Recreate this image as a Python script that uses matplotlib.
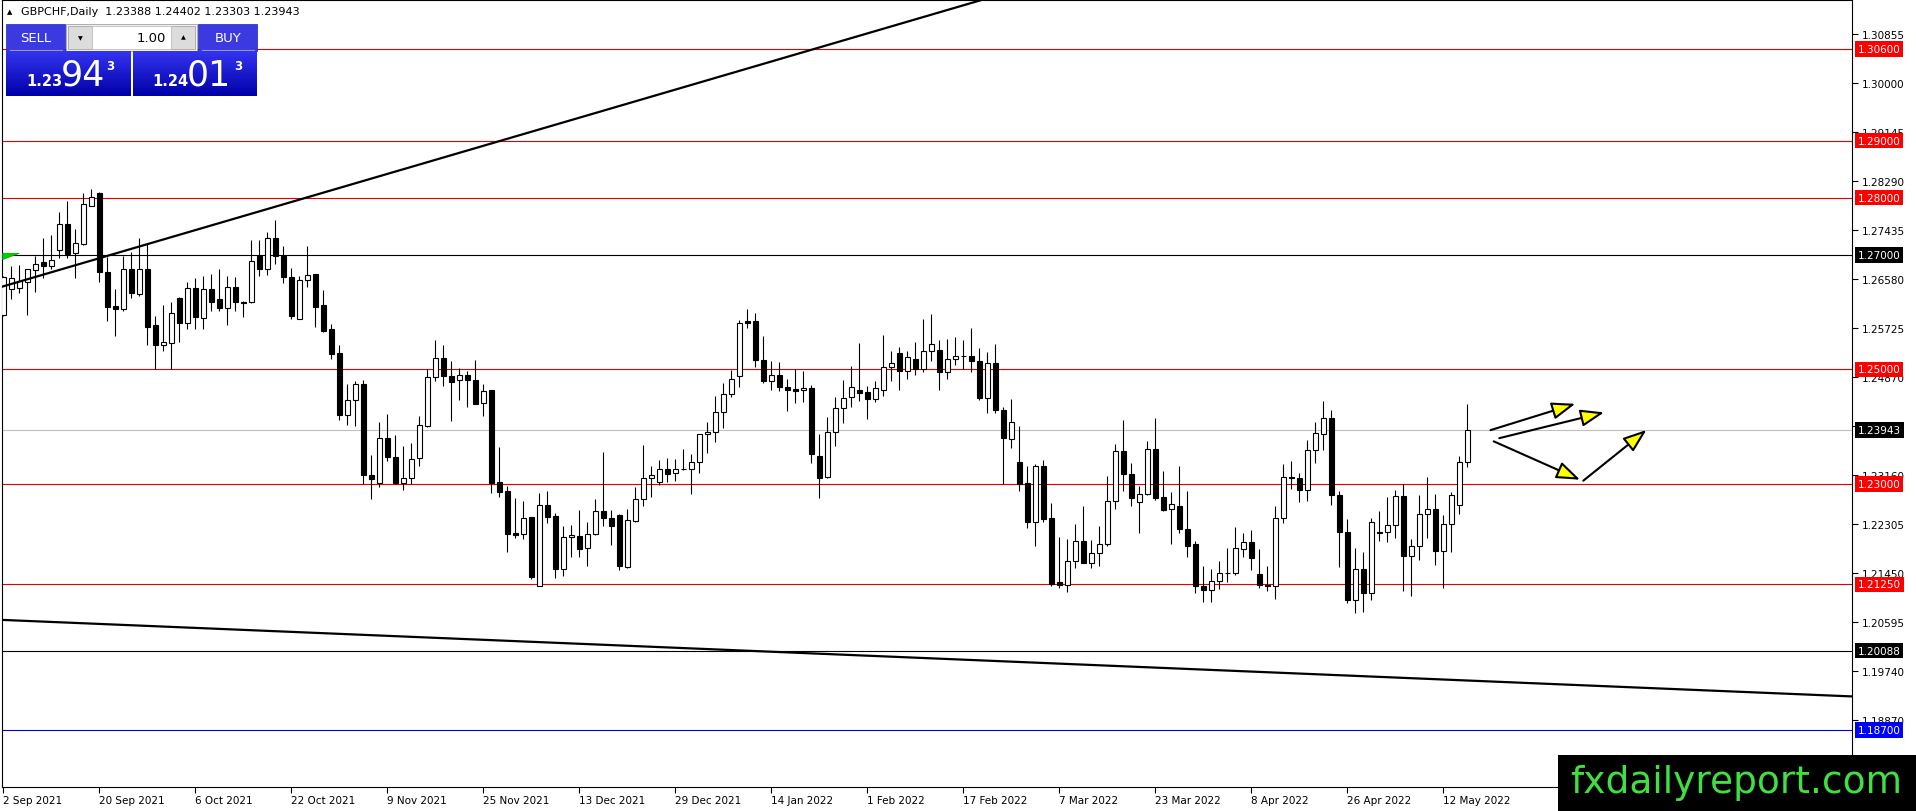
import numpy as np
import pandas as pd
import matplotlib
matplotlib.use("Agg")
import matplotlib.pyplot as plt
from matplotlib import transforms
from matplotlib.patches import Rectangle, Polygon, FancyArrowPatch
from matplotlib.colors import LinearSegmentedColormap
from matplotlib import font_manager

W, H = 1916, 812

# daily bars, 2 Sep 2021 .. 17 May 2022
dates = pd.bdate_range("2021-09-02", "2022-05-17")

opens = [1.2595, 1.2641, 1.2643, 1.2652, 1.2674, 1.2687, 1.2681, 1.2709, 1.2754, 1.2704,
         1.2719, 1.2786, 1.2809, 1.2670, 1.2611, 1.2606, 1.2675, 1.2632, 1.2675, 1.2577,
         1.2542, 1.2547, 1.2625, 1.2581, 1.2643, 1.2590, 1.2641, 1.2623, 1.2608, 1.2644,
         1.2618, 1.2618, 1.2699, 1.2676, 1.2730, 1.2699, 1.2662, 1.2589, 1.2656, 1.2666,
         1.2612, 1.2570, 1.2528, 1.2420, 1.2446, 1.2474, 1.2316, 1.2301, 1.2380, 1.2347,
         1.2302, 1.2311, 1.2345, 1.2402, 1.2487, 1.2520, 1.2489, 1.2482, 1.2491, 1.2482,
         1.2442, 1.2464, 1.2303, 1.2287, 1.2214, 1.2212, 1.2242, 1.2122, 1.2263, 1.2244,
         1.2151, 1.2207, 1.2209, 1.2188, 1.2212, 1.2253, 1.2240, 1.2246, 1.2155, 1.2236,
         1.2273, 1.2310, 1.2304, 1.2326, 1.2319, 1.2326, 1.2327, 1.2339, 1.2387, 1.2391,
         1.2426, 1.2458, 1.2489, 1.2584, 1.2584, 1.2517, 1.2480, 1.2491, 1.2470, 1.2466,
         1.2465, 1.2467, 1.2349, 1.2312, 1.2390, 1.2432, 1.2452, 1.2464, 1.2460, 1.2448,
         1.2465, 1.2504, 1.2528, 1.2498, 1.2519, 1.2501, 1.2533, 1.2534, 1.2496, 1.2519,
         1.2523, 1.2524, 1.2515, 1.2451, 1.2511, 1.2430, 1.2378, 1.2338, 1.2301, 1.2233,
         1.2331, 1.2240, 1.2129, 1.2123, 1.2166, 1.2201, 1.2162, 1.2179, 1.2195, 1.2270,
         1.2358, 1.2317, 1.2269, 1.2282, 1.2361, 1.2277, 1.2256, 1.2262, 1.2221, 1.2195,
         1.2122, 1.2115, 1.2131, 1.2144, 1.2144, 1.2187, 1.2199, 1.2142, 1.2124, 1.2122,
         1.2241, 1.2313, 1.2311, 1.2289, 1.2359, 1.2387, 1.2415, 1.2281, 1.2216, 1.2097,
         1.2152, 1.2110, 1.2216, 1.2216, 1.2229, 1.2279, 1.2174, 1.2192, 1.2248, 1.2256,
         1.2183, 1.2230, 1.2264, 1.23388]
highs = [1.2664, 1.2680, 1.2683, 1.2676, 1.2699, 1.2730, 1.2735, 1.2775, 1.2795, 1.2746,
         1.2808, 1.2816, 1.2810, 1.2697, 1.2640, 1.2699, 1.2705, 1.2729, 1.2721, 1.2594,
         1.2612, 1.2618, 1.2626, 1.2653, 1.2659, 1.2663, 1.2667, 1.2676, 1.2663, 1.2662,
         1.2619, 1.2727, 1.2727, 1.2740, 1.2761, 1.2716, 1.2677, 1.2664, 1.2715, 1.2667,
         1.2638, 1.2580, 1.2542, 1.2474, 1.2479, 1.2482, 1.2351, 1.2408, 1.2423, 1.2386,
         1.2367, 1.2371, 1.2418, 1.2501, 1.2551, 1.2542, 1.2515, 1.2503, 1.2497, 1.2517,
         1.2474, 1.2465, 1.2365, 1.2297, 1.2275, 1.2271, 1.2243, 1.2284, 1.2288, 1.2249,
         1.2226, 1.2229, 1.2255, 1.2233, 1.2274, 1.2355, 1.2255, 1.2247, 1.2256, 1.2295,
         1.2368, 1.2331, 1.2342, 1.2345, 1.2343, 1.2361, 1.2352, 1.2388, 1.2409, 1.2454,
         1.2476, 1.2499, 1.2587, 1.2605, 1.2598, 1.2558, 1.2515, 1.2513, 1.2484, 1.2500,
         1.2498, 1.2473, 1.2387, 1.2417, 1.2452, 1.2481, 1.2506, 1.2547, 1.2471, 1.2479,
         1.2560, 1.2533, 1.2540, 1.2533, 1.2548, 1.2589, 1.2597, 1.2551, 1.2554, 1.2556,
         1.2552, 1.2572, 1.2538, 1.2531, 1.2544, 1.2435, 1.2449, 1.2402, 1.2331, 1.2335,
         1.2342, 1.2266, 1.2208, 1.2204, 1.2230, 1.2262, 1.2202, 1.2227, 1.2314, 1.2370,
         1.2412, 1.2336, 1.2297, 1.2375, 1.2416, 1.2323, 1.2286, 1.2331, 1.2288, 1.2201,
         1.2156, 1.2151, 1.2166, 1.2188, 1.2224, 1.2215, 1.2219, 1.2187, 1.2156, 1.2261,
         1.2334, 1.2340, 1.2320, 1.2377, 1.2409, 1.2445, 1.2430, 1.2287, 1.2238, 1.2188,
         1.2181, 1.2240, 1.2252, 1.2277, 1.2290, 1.2300, 1.2203, 1.2281, 1.2312, 1.2283,
         1.2245, 1.2286, 1.2348, 1.24402]
lows = [1.2594, 1.2623, 1.2634, 1.2595, 1.2635, 1.2659, 1.2675, 1.2694, 1.2694, 1.2659,
        1.2717, 1.2785, 1.2653, 1.2584, 1.2558, 1.2602, 1.2625, 1.2628, 1.2543, 1.2501,
        1.2533, 1.2501, 1.2548, 1.2571, 1.2571, 1.2571, 1.2602, 1.2602, 1.2577, 1.2602,
        1.2592, 1.2616, 1.2663, 1.2665, 1.2685, 1.2651, 1.2588, 1.2588, 1.2644, 1.2575,
        1.2565, 1.2518, 1.2411, 1.2403, 1.2401, 1.2300, 1.2274, 1.2295, 1.2340, 1.2300,
        1.2289, 1.2300, 1.2332, 1.2399, 1.2479, 1.2471, 1.2410, 1.2447, 1.2434, 1.2439,
        1.2419, 1.2284, 1.2278, 1.2182, 1.2205, 1.2204, 1.2134, 1.2121, 1.2231, 1.2136,
        1.2140, 1.2172, 1.2172, 1.2157, 1.2211, 1.2227, 1.2194, 1.2149, 1.2154, 1.2234,
        1.2262, 1.2278, 1.2298, 1.2304, 1.2306, 1.2324, 1.2282, 1.2319, 1.2354, 1.2374,
        1.2397, 1.2452, 1.2470, 1.2572, 1.2505, 1.2477, 1.2464, 1.2462, 1.2428, 1.2442,
        1.2444, 1.2337, 1.2276, 1.2311, 1.2367, 1.2407, 1.2435, 1.2445, 1.2413, 1.2444,
        1.2454, 1.2479, 1.2465, 1.2483, 1.2490, 1.2496, 1.2515, 1.2465, 1.2483, 1.2508,
        1.2500, 1.2496, 1.2447, 1.2424, 1.2424, 1.2300, 1.2362, 1.2288, 1.2223, 1.2192,
        1.2234, 1.2122, 1.2118, 1.2112, 1.2154, 1.2162, 1.2154, 1.2157, 1.2192, 1.2256,
        1.2287, 1.2261, 1.2214, 1.2280, 1.2272, 1.2252, 1.2195, 1.2215, 1.2173, 1.2109,
        1.2093, 1.2093, 1.2116, 1.2128, 1.2141, 1.2173, 1.2149, 1.2119, 1.2113, 1.2099,
        1.2231, 1.2292, 1.2268, 1.2270, 1.2336, 1.2359, 1.2264, 1.2155, 1.2092, 1.2074,
        1.2076, 1.2097, 1.2200, 1.2199, 1.2206, 1.2113, 1.2105, 1.2167, 1.2206, 1.2159,
        1.2119, 1.2181, 1.2247, 1.23303]
closes = [1.2662, 1.2659, 1.2654, 1.2675, 1.2685, 1.2681, 1.2692, 1.2754, 1.2701, 1.2721,
          1.2789, 1.2802, 1.2670, 1.2609, 1.2606, 1.2675, 1.2634, 1.2675, 1.2575, 1.2542,
          1.2548, 1.2599, 1.2581, 1.2643, 1.2592, 1.2641, 1.2618, 1.2608, 1.2644, 1.2618,
          1.2617, 1.2690, 1.2676, 1.2730, 1.2699, 1.2662, 1.2593, 1.2657, 1.2665, 1.2610,
          1.2568, 1.2527, 1.2420, 1.2446, 1.2474, 1.2315, 1.2309, 1.2380, 1.2347, 1.2301,
          1.2311, 1.2344, 1.2403, 1.2487, 1.2520, 1.2488, 1.2478, 1.2491, 1.2481, 1.2440,
          1.2462, 1.2301, 1.2286, 1.2212, 1.2211, 1.2241, 1.2137, 1.2263, 1.2243, 1.2151,
          1.2207, 1.2211, 1.2186, 1.2212, 1.2253, 1.2240, 1.2227, 1.2156, 1.2237, 1.2273,
          1.2310, 1.2315, 1.2327, 1.2317, 1.2327, 1.2327, 1.2339, 1.2387, 1.2391, 1.2426,
          1.2458, 1.2483, 1.2582, 1.2581, 1.2517, 1.2480, 1.2491, 1.2470, 1.2465, 1.2463,
          1.2467, 1.2352, 1.2311, 1.2390, 1.2432, 1.2451, 1.2469, 1.2459, 1.2448, 1.2467,
          1.2504, 1.2512, 1.2498, 1.2521, 1.2501, 1.2533, 1.2544, 1.2496, 1.2519, 1.2523,
          1.2524, 1.2515, 1.2451, 1.2511, 1.2429, 1.2380, 1.2408, 1.2300, 1.2233, 1.2331,
          1.2239, 1.2125, 1.2123, 1.2166, 1.2201, 1.2162, 1.2179, 1.2195, 1.2270, 1.2358,
          1.2317, 1.2275, 1.2282, 1.2361, 1.2276, 1.2255, 1.2265, 1.2221, 1.2192, 1.2121,
          1.2114, 1.2131, 1.2144, 1.2145, 1.2188, 1.2198, 1.2171, 1.2124, 1.2122, 1.2241,
          1.2312, 1.2310, 1.2289, 1.2360, 1.2389, 1.2415, 1.2281, 1.2216, 1.2097, 1.2152,
          1.2110, 1.2234, 1.2214, 1.2229, 1.2279, 1.2174, 1.2192, 1.2248, 1.2256, 1.2183,
          1.2230, 1.2280, 1.2338, 1.23943]

# horizontal levels drawn on the chart
levels = [1.30600, 1.29000, 1.28000, 1.27000, 1.25000, 1.23943, 1.23000, 1.21250, 1.20088, 1.18700]
level_colors = ["#e00000", "#e00000", "#e00000", "#000000", "#e00000", "#c0c0c0",
                "#e00000", "#e00000", "#000000", "#0000e0"]
label_colors = ["#ff0000", "#ff0000", "#ff0000", "#000000", "#ff0000", "#000000",
                "#ff0000", "#ff0000", "#000000", "#0000ff"]

price_ticks = [1.30855, 1.30000, 1.29145, 1.28290, 1.27435, 1.26580, 1.25725, 1.24870,
               1.24015, 1.23160, 1.22305, 1.21450, 1.20595, 1.19740, 1.18870]

# trend lines (bar index, price)
upper_trend = [(-1, 1.26412), (140, 1.32180)]
lower_trend = [(-1, 1.20630), (232, 1.19283)]

# arrows drawn on the right (bar index, price)
arrows = [((185.9, 1.2394), (196.5, 1.2440)),
          ((187.0, 1.2380), (200.1, 1.2425)),
          ((186.3, 1.23745), (197.1, 1.23074)),
          ((197.5, 1.23057), (205.4, 1.23943))]

title = "GBPCHF,Daily  1.23388 1.24402 1.23303 1.23943"


def first_font(names):
    for n in names:
        try:
            font_manager.findfont(n, fallback_to_default=False)
            return n
        except Exception:
            pass
    return "DejaVu Sans"


plt.rcParams['font.family'] = ['DejaVu Sans']
fig = plt.figure(figsize=(W / 100, H / 100), dpi=100)
fig.patch.set_facecolor("white")

ax = fig.add_axes([2 / W, 24 / H, 1850 / W, 787 / H])
ax.set_facecolor("white")

x = np.arange(len(dates))
o = np.array(opens); h = np.array(highs); l = np.array(lows); c = np.array(closes)
up = c >= o

# wicks then bodies
ax.vlines(x, l, h, color="black", lw=0.8, zorder=3)
body_lo = np.minimum(o, c)
body_h = np.maximum(np.abs(c - o), 0.00004)
ax.bar(x[up], body_h[up], bottom=body_lo[up], width=0.62, color="white",
       edgecolor="black", linewidth=0.8, zorder=4)
ax.bar(x[~up], body_h[~up], bottom=body_lo[~up], width=0.62, color="black",
       edgecolor="black", linewidth=0.8, zorder=4)

for lev, col in zip(levels, level_colors):
    ax.axhline(lev, color=col, lw=0.8, zorder=1)

ax.plot([p[0] for p in upper_trend], [p[1] for p in upper_trend], color="black", lw=1.6, zorder=5)
ax.plot([p[0] for p in lower_trend], [p[1] for p in lower_trend], color="black", lw=1.6, zorder=5)

# small green marker at the left edge
ax.add_patch(Polygon([(-0.08, 1.2703), (2.0, 1.2703), (-0.08, 1.2692)], closed=True,
                     facecolor="#00d000", edgecolor="#00a000", lw=0.5, zorder=6))

for (x0, y0), (x1, y1) in arrows:
    ax.add_patch(FancyArrowPatch((x0, y0), (x1, y1),
                                 arrowstyle="-|>,head_length=0.9,head_width=0.33",
                                 mutation_scale=16, facecolor="#ffff00", edgecolor="black",
                                 lw=1.5, shrinkA=0, shrinkB=0, zorder=7))

ax.set_xlim(-0.1625, 231.09)
ax.set_ylim(1.177058, 1.314549)

# date axis
xt = x[::12]
ax.set_xticks(xt)
ax.set_xticklabels([f"{d.day} {d.strftime('%b %Y')}" for d in dates[::12]], ha="left")
ax.tick_params(axis="x", direction="out", length=4, width=0.8, pad=2, labelsize=7.5)

# price axis on the right
ax.yaxis.tick_right()
ax.set_yticks(price_ticks)
ax.set_yticklabels([f"{t:.5f}" for t in price_ticks])
ax.tick_params(axis="y", direction="out", length=4, width=0.8, pad=3, labelsize=7.5)

for sp in ax.spines.values():
    sp.set_linewidth(0.8)
    sp.set_color("black")

trans = transforms.blended_transform_factory(ax.transAxes, ax.transData)
for lev, col in zip(levels, label_colors):
    ax.text(1.0 + 6 / 1850, lev, f"{lev:.5f}", transform=trans, va="center", ha="left",
            color="white", fontsize=7.5, clip_on=False, zorder=8,
            bbox=dict(boxstyle="square,pad=0.25", fc=col, ec="none"))

# overlay in pixel coordinates
ov = fig.add_axes([0, 0, 1, 1], zorder=10)
ov.set_xlim(0, W)
ov.set_ylim(H, 0)
ov.set_facecolor("none")
ov.axis("off")

ov.text(7, 12, "\u25b2", fontsize=5, va="center", ha="left", color="black")
ov.text(21, 12, title, fontsize=8, va="center", ha="left", color="black")

# one-click trading panel
btn = "#3a3ae0"
ov.add_patch(Rectangle((6, 25), 59, 27, facecolor=btn, edgecolor="#2020c0", lw=0.5))
ov.add_patch(Rectangle((198, 25), 59, 27, facecolor=btn, edgecolor="#2020c0", lw=0.5))
ov.plot([10, 62], [51, 51], color="#9090ff", lw=0.8)
ov.plot([202, 254], [51, 51], color="#9090ff", lw=0.8)
ov.text(36, 39, "SELL", color="white", fontsize=9.5, ha="center", va="center")
ov.text(228, 39, "BUY", color="white", fontsize=9.5, ha="center", va="center")

ov.add_patch(Rectangle((66, 25), 131, 27, facecolor="#f0f0f0", edgecolor="#a0a0a0", lw=0.6))
ov.add_patch(Rectangle((68, 27), 24, 23, facecolor="#dcdcdc", edgecolor="#a8a8a8", lw=0.6))
ov.add_patch(Rectangle((171, 27), 24, 23, facecolor="#dcdcdc", edgecolor="#a8a8a8", lw=0.6))
ov.add_patch(Rectangle((92, 27), 79, 23, facecolor="white", edgecolor="#c0c0c0", lw=0.6))
ov.text(80, 39, "\u25bc", fontsize=4.5, ha="center", va="center", color="black")
ov.text(183, 38, "\u25b2", fontsize=4.5, ha="center", va="center", color="black")
ov.text(166, 38, "1.00", fontsize=9.5, ha="right", va="center", color="black")

grad_cmap = LinearSegmentedColormap.from_list("g", ["#3434f0", "#0000a8"])
grad = np.linspace(0, 1, 64).reshape(-1, 1)
for bx0, bx1 in [(6, 131), (133, 257)]:
    ov.imshow(grad, extent=(bx0, bx1, 97, 52), cmap=grad_cmap, aspect="auto",
              interpolation="bilinear", zorder=2)

ov.text(26, 82, "1.23", color="white", fontsize=10.5, fontweight="bold", ha="left", va="center", zorder=3)
ov.text(61, 76, "94", color="white", fontsize=25, ha="left", va="center", zorder=3)
ov.text(106, 66, "3", color="white", fontsize=8.5, fontweight="bold", ha="left", va="center", zorder=3)
ov.text(152, 82, "1.24", color="white", fontsize=10.5, fontweight="bold", ha="left", va="center", zorder=3)
ov.text(187, 76, "01", color="white", fontsize=25, ha="left", va="center", zorder=3)
ov.text(234, 66, "3", color="white", fontsize=8.5, fontweight="bold", ha="left", va="center", zorder=3)

# watermark
wm_family = first_font(["Liberation Sans Narrow", "DejaVu Sans Condensed", "DejaVu Sans"])
wm_size = {"Liberation Sans Narrow": 37, "DejaVu Sans Condensed": 30}.get(wm_family, 27)
ov.add_patch(Rectangle((1558, 756), W - 1558, H - 756, facecolor="black", edgecolor="none", zorder=4))
ov.text(1736, 783, "fxdailyreport.com", color="#40e040", fontsize=wm_size, family=[wm_family],
        ha="center", va="center", zorder=5)

ov.set_xlim(0, W)
ov.set_ylim(H, 0)

fig.savefig("out.png", dpi=100, facecolor="white")
